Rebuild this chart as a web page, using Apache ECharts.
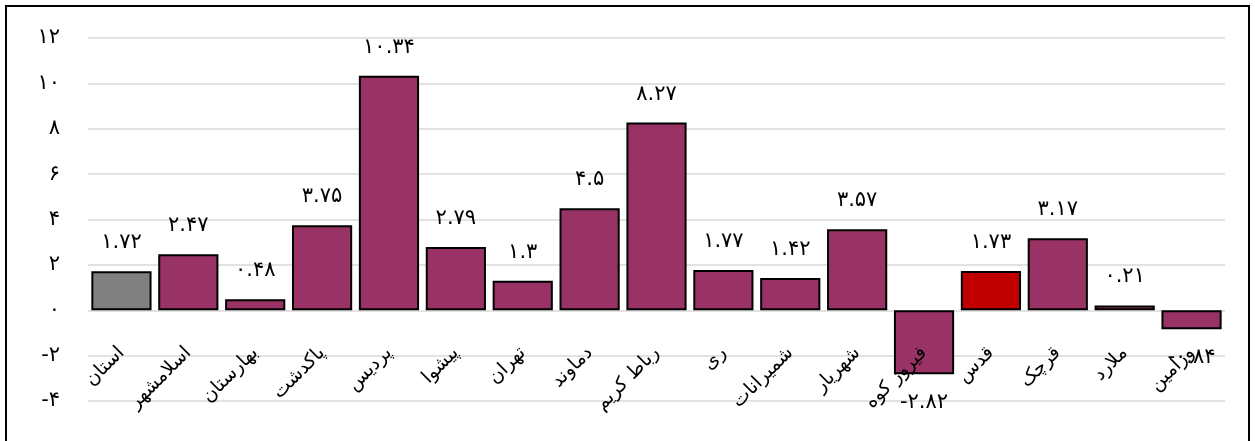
<!DOCTYPE html>
<html>
<head>
<meta charset="utf-8">
<script src="https://cdn.jsdelivr.net/npm/echarts@6/dist/echarts.min.js"></script>
<style>
html,body{margin:0;padding:0;background:#fff;width:1255px;height:441px;overflow:hidden;}
#frame{position:absolute;left:5px;top:5px;width:1245px;height:460px;border:2px solid #000;box-sizing:border-box;}
#chart{position:absolute;left:0;top:0;width:1255px;height:441px;}
</style>
</head>
<body>
<div id="frame"></div>
<div id="chart"></div>
<script>
const categories = ['استان','اسلامشهر','بهارستان','پاکدشت','پردیس','پیشوا','تهران','دماوند','رباط کریم','ری','شمیرانات','شهریار','فیروز کوه','قدس','قرچک','ملارد','ورامین'];
const values = [1.72, 2.47, 0.48, 3.75, 10.34, 2.79, 1.3, 4.5, 8.27, 1.77, 1.42, 3.57, -2.82, 1.73, 3.17, 0.21, -0.84];
const yTicks = [-4, -2, 0, 2, 4, 6, 8, 10, 12];

const highlight = {'استان': '#808080', 'قدس': '#C00000'};
const baseColor = '#993366';
const FONT = "'DejaVu Sans', sans-serif";

function fa(v) {
  const d = '۰۱۲۳۴۵۶۷۸۹';
  return String(v).replace(/[0-9]/g, c => d[+c]);
}

const chart = echarts.init(document.getElementById('chart'));
chart.setOption({
  animation: false,
  backgroundColor: 'transparent',
  grid: {left: 88, right: 30, top: 38, bottom: 40, containLabel: false, outerBoundsMode: 'none'},
  xAxis: {
    type: 'category',
    z: 10,
    data: categories,
    axisLine: {show: false, onZero: false},
    axisTick: {show: false},
    axisLabel: {interval: 0, rotate: 45, margin: -51, fontSize: 19, color: '#000', fontFamily: FONT, hideOverlap: false}
  },
  yAxis: {
    type: 'value',
    min: yTicks[0],
    max: yTicks[yTicks.length - 1],
    interval: 2,
    axisLine: {show: false},
    axisTick: {show: false},
    splitLine: {lineStyle: {color: '#d9d9d9', width: 1.5}},
    axisLabel: {margin: 28, fontSize: 21, color: '#000', fontFamily: FONT, formatter: v => fa(v)}
  },
  series: [{
    type: 'bar',
    barCategoryGap: '10%',
    data: values.map((v, i) => ({
      value: v,
      itemStyle: {color: highlight[categories[i]] || baseColor},
      label: {position: v < 0 ? 'bottom' : 'top'}
    })),
    itemStyle: {borderColor: '#000', borderWidth: 2},
    label: {
      show: true,
      distance: 18,
      fontSize: 21,
      color: '#000',
      fontFamily: FONT,
      formatter: p => fa(p.value)
    }
  }]
});
</script>
</body>
</html>
